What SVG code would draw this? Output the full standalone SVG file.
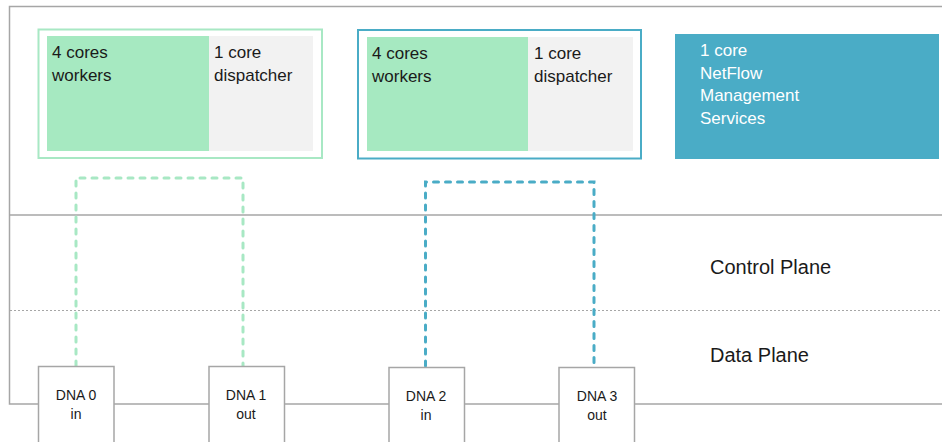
<svg xmlns="http://www.w3.org/2000/svg" width="942" height="442" viewBox="0 0 942 442">
<style>
  .frame{fill:none;stroke:#a6a6a6;stroke-width:1.5}
  .dot{fill:none;stroke:#a6a6a6;stroke-width:1;stroke-dasharray:2 2}
  .t{font-family:"Liberation Sans",Arial,sans-serif;font-size:17px;fill:#1a1a1a}
  .tw{font-family:"Liberation Sans",Arial,sans-serif;font-size:17px;fill:#ffffff}
  .big{font-family:"Liberation Sans",Arial,sans-serif;font-size:20px;fill:#1a1a1a}
  .dn{font-family:"Liberation Sans",Arial,sans-serif;font-size:14px;fill:#1a1a1a;text-anchor:middle}
  .work{fill:#a6e9c1}
  .disp{fill:#f2f2f2}
  .dna{fill:#ffffff;stroke:#a6a6a6;stroke-width:1.5}
  .cg{fill:none;stroke:#a8e8c4;stroke-width:3;stroke-dasharray:5 7;stroke-linecap:round}
  .cb{fill:none;stroke:#4aacc6;stroke-width:3;stroke-dasharray:5 7;stroke-linecap:round}
</style>
<rect width="942" height="442" fill="#ffffff"/>
<g id="planes">
  <path class="frame" d="M942 6.5H9.5V404H942"/>
  <line class="frame" x1="9.5" y1="215" x2="942" y2="215"/>
  <line class="dot" x1="10" y1="310.5" x2="942" y2="310.5"/>
  <text class="big" x="710" y="274">Control Plane</text>
  <text class="big" x="710" y="362">Data Plane</text>
</g>
<g id="connectors">
  <path class="cg" d="M76 366V178H243V366"/>
  <path class="cb" d="M425.5 366V182H594V366"/>
</g>
<g id="group1">
  <rect x="38.5" y="29.5" width="283.5" height="128.5" fill="#ffffff" stroke="#a8e8c4" stroke-width="2"/>
  <rect class="work" x="47" y="36" width="162" height="115"/>
  <rect class="disp" x="209" y="36" width="104" height="115"/>
  <text class="t" x="52" y="58">4 cores</text>
  <text class="t" x="52" y="81">workers</text>
  <text class="t" x="214" y="58">1 core</text>
  <text class="t" x="214" y="81">dispatcher</text>
</g>
<g id="group2">
  <rect x="358" y="30" width="283" height="128.5" fill="#ffffff" stroke="#4aacc6" stroke-width="2"/>
  <rect class="work" x="367" y="37" width="161" height="114"/>
  <rect class="disp" x="528" y="37" width="105" height="114"/>
  <text class="t" x="372" y="59">4 cores</text>
  <text class="t" x="372" y="82">workers</text>
  <text class="t" x="534" y="59">1 core</text>
  <text class="t" x="534" y="82">dispatcher</text>
</g>
<g id="mgmt">
  <rect x="675" y="34" width="264" height="125" fill="#4aacc6"/>
  <text class="tw" x="700" y="56">1 core</text>
  <text class="tw" x="700" y="79">NetFlow</text>
  <text class="tw" x="700" y="101">Management</text>
  <text class="tw" x="700" y="124">Services</text>
</g>
<g id="dna0">
  <rect class="dna" x="38.5" y="366.5" width="75.5" height="80"/>
  <text class="dn" x="76" y="400">DNA 0</text>
  <text class="dn" x="76" y="419">in</text>
</g>
<g id="dna1">
  <rect class="dna" x="209" y="366.5" width="75.5" height="80"/>
  <text class="dn" x="246" y="400">DNA 1</text>
  <text class="dn" x="246" y="419">out</text>
</g>
<g id="dna2">
  <rect class="dna" x="389" y="367.5" width="75.5" height="80"/>
  <text class="dn" x="426" y="401">DNA 2</text>
  <text class="dn" x="426" y="420">in</text>
</g>
<g id="dna3">
  <rect class="dna" x="559" y="367.5" width="75.5" height="80"/>
  <text class="dn" x="597" y="401">DNA 3</text>
  <text class="dn" x="597" y="420">out</text>
</g>
</svg>
